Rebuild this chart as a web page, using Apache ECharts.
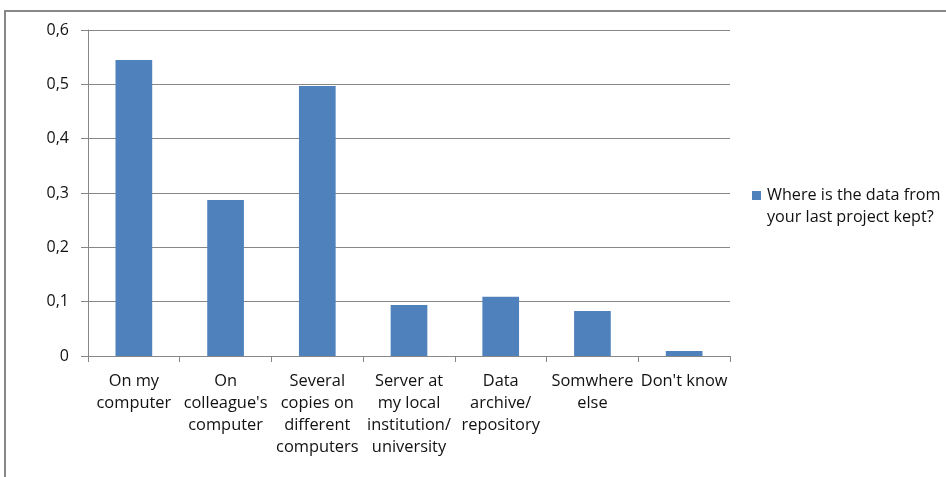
<!DOCTYPE html>
<html>
<head>
<meta charset="utf-8">
<script src="https://cdn.jsdelivr.net/npm/echarts@6/dist/echarts.min.js"></script>
<style>
  html, body { margin: 0; padding: 0; background: #fff; }
  #chart { width: 946px; height: 477px; }
</style>
</head>
<body>
<div id="chart"></div>
<script>
// Survey answers: where project data is stored (share of respondents)
const categories = [
  'On my\ncomputer',
  'On\ncolleague\'s\ncomputer',
  'Several\ncopies on\ndifferent\ncomputers',
  'Server at\nmy local\ninstitution/\nuniversity',
  'Data\narchive/\nrepository',
  'Somwhere\nelse',
  'Don\'t know'
];
const seriesName = 'Where is the data from your last project kept?';
const shares = [0.545, 0.287, 0.497, 0.094, 0.109, 0.083, 0.009];
const yTicks = [0, 0.1, 0.2, 0.3, 0.4, 0.5, 0.6];

const FONT = '"Open Sans", Lato, sans-serif';
const GREY = '#878787';
const INK = '#111';

const chart = echarts.init(document.getElementById('chart'), null, { renderer: 'canvas' });

chart.setOption({
  animation: false,
  backgroundColor: '#fff',
  textStyle: { fontFamily: FONT },
  graphic: [
    // outer chart frame (top and left edges)
    { type: 'line', shape: { x1: 5, y1: 11, x2: 946, y2: 11 }, style: { stroke: GREY, lineWidth: 2 } },
    { type: 'line', shape: { x1: 5, y1: 10, x2: 5, y2: 477 }, style: { stroke: GREY, lineWidth: 2 } }
  ],
  grid: { left: 88, right: 216, top: 30, bottom: 121, containLabel: false },
  legend: {
    left: 747,
    top: 179,
    orient: 'vertical',
    itemWidth: 9,
    itemHeight: 30,
    itemGap: 0,
    icon: 'path://M0 0H9V9H0Z M0 30L0.01 30',
    formatter: function () { return 'Where is the data from\nyour last project kept?'; },
    textStyle: { fontFamily: FONT, fontSize: 16.2, color: INK, lineHeight: 22, padding: [0, 0, 0, 1] },
    data: [seriesName]
  },
  xAxis: {
    type: 'category',
    data: categories,
    boundaryGap: true,
    axisLine: { show: true, lineStyle: { color: GREY, width: 1 } },
    axisTick: { show: true, length: 6, lineStyle: { color: GREY } },
    axisLabel: {
      interval: 0,
      margin: 14,
      fontFamily: FONT,
      fontSize: 16.4,
      lineHeight: 22,
      color: INK,
      align: 'center'
    },
    splitLine: { show: false }
  },
  yAxis: {
    type: 'value',
    min: yTicks[0],
    max: yTicks[yTicks.length - 1],
    interval: 0.1,
    axisLine: { show: true, lineStyle: { color: GREY, width: 1 } },
    axisTick: { show: true, length: 7, lineStyle: { color: GREY } },
    axisLabel: {
      margin: 19,
      fontFamily: FONT,
      fontSize: 16,
      color: INK,
      formatter: function (v) {
        return String(Math.round(v * 10) / 10).replace('.', ',');
      }
    },
    splitLine: { show: true, lineStyle: { color: GREY, width: 1 } }
  },
  series: [{
    name: seriesName,
    type: 'bar',
    data: shares,
    barCategoryGap: '60%',
    itemStyle: { color: '#4F81BD' }
  }]
});
</script>
</body>
</html>
